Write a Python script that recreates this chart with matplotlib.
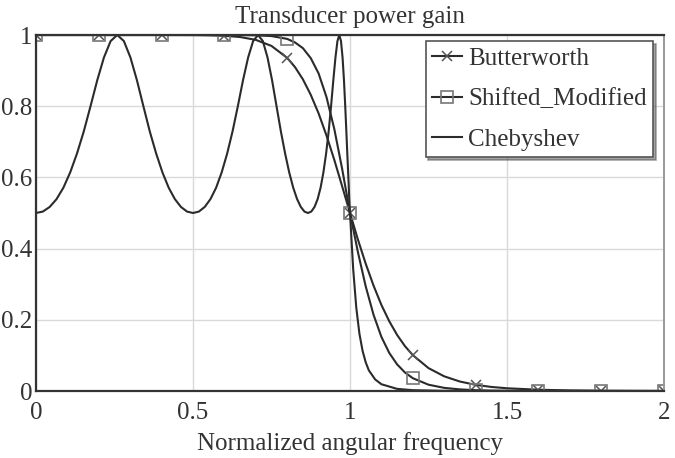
import numpy as np
import matplotlib
matplotlib.use("Agg")
import matplotlib.pyplot as plt

plt.rcParams['font.family'] = ['Liberation Serif', 'DejaVu Serif']

# Butterworth / Shifted_Modified sampled curves
w_bs = [0, 0.1, 0.2, 0.3, 0.4, 0.5, 0.55, 0.6, 0.65, 0.7, 0.75, 0.8, 0.825, 0.85,
        0.875, 0.9, 0.925, 0.95, 0.975, 1.0, 1.025, 1.05, 1.075, 1.1, 1.125, 1.15,
        1.175, 1.2, 1.25, 1.3, 1.35, 1.4, 1.45, 1.5, 1.6, 1.7, 1.8, 1.9, 2.0]
butterworth = [1.0, 1.0, 1.0, 1.0, 1.0, 0.9998, 0.9992, 0.9978, 0.9943, 0.9863, 0.9693,
               0.9357, 0.9096, 0.8755, 0.832, 0.7798, 0.718, 0.6492, 0.575, 0.5, 0.426,
               0.3577, 0.296, 0.2417, 0.196, 0.1575, 0.126, 0.1008, 0.0643, 0.0412,
               0.0266, 0.0173, 0.0114, 0.0077, 0.0035, 0.0017, 0.0009, 0.0005, 0.0002]
shifted = [1.0, 1.0, 1.0, 1.0, 1.0, 1.0, 1.0, 1.0, 0.9998, 0.9992, 0.997, 0.989, 0.979,
           0.963, 0.935, 0.892, 0.826, 0.736, 0.624, 0.5, 0.391, 0.294, 0.214, 0.152,
           0.107, 0.0748, 0.052, 0.036, 0.0177, 0.0088, 0.0045, 0.0023, 0.0012, 0.0007,
           0.0002, 0.0001, 0.0, 0.0, 0.0]

# Chebyshev sampled curve
w_cheb = [0.0, 0.0218, 0.0436, 0.0654, 0.0872, 0.1089, 0.1305, 0.1521, 0.1736, 0.1951,
          0.2164, 0.2377, 0.2588, 0.2798, 0.3007, 0.3214, 0.3420, 0.3624, 0.3827, 0.4027,
          0.4226, 0.4423, 0.4617, 0.4810, 0.5, 0.5188, 0.5373, 0.5556, 0.5736, 0.5913,
          0.6088, 0.6259, 0.6428, 0.6593, 0.6756, 0.6915, 0.7071, 0.7224, 0.7373, 0.7518,
          0.7660, 0.7799, 0.7934, 0.8064, 0.8192, 0.8315, 0.8434, 0.8549, 0.8660, 0.8767,
          0.8870, 0.8969, 0.9063, 0.9153, 0.9239, 0.9320, 0.9397, 0.9469, 0.9537, 0.9600,
          0.9659, 0.9713, 0.9763, 0.9808, 0.9848, 0.9884, 0.9914, 0.9941, 0.9962, 0.9976,
          0.9990, 0.9998, 1.0,
          1.01, 1.02, 1.03, 1.04, 1.05, 1.06, 1.08, 1.1, 1.15, 1.2, 1.3, 1.4, 1.6, 1.8, 2.0]
chebyshev = [0.5, 0.504, 0.517, 0.539, 0.571, 0.614, 0.667, 0.729, 0.8, 0.873, 0.937, 0.983, 1.0,
             0.983, 0.937, 0.873, 0.8, 0.729, 0.667, 0.614, 0.571, 0.539, 0.517, 0.504, 0.5,
             0.504, 0.517, 0.539, 0.571, 0.614, 0.667, 0.729, 0.8, 0.873, 0.937, 0.983, 1.0,
             0.983, 0.937, 0.873, 0.8, 0.729, 0.667, 0.614, 0.571, 0.539, 0.517, 0.504, 0.5,
             0.504, 0.517, 0.539, 0.571, 0.614, 0.667, 0.729, 0.8, 0.873, 0.937, 0.983, 1.0,
             0.983, 0.937, 0.873, 0.8, 0.729, 0.667, 0.614, 0.571, 0.539, 0.517, 0.504, 0.5,
             0.344, 0.234, 0.161, 0.113, 0.0806, 0.058, 0.0326, 0.019, 0.006, 0.0023,
             0.0005, 0.0001, 0.0, 0.0, 0.0]

xticks = [0, 0.5, 1, 1.5, 2]
xtick_labels = ["0", "0.5", "1", "1.5", "2"]
yticks = [0, 0.2, 0.4, 0.6, 0.8, 1]
ytick_labels = ["0", "0.2", "0.4", "0.6", "0.8", "1"]

# markers every 0.2
marks = [i for i, v in enumerate(w_bs) if abs(v * 5 - round(v * 5)) < 1e-6]

fig = plt.figure(figsize=(6.75, 4.58), dpi=100)
ax = fig.add_axes([36 / 675, 1 - 391 / 458, 628 / 675, 356 / 458])

line_c = '#2b2b2b'
ax.plot(w_bs, butterworth, color=line_c, lw=1.5, marker='x', ms=7, mew=1.1,
        mec='#555555', markevery=marks, label='Butterworth')
ax.plot(w_bs, shifted, color=line_c, lw=1.5, marker='s', ms=8, mew=1.2,
        mec='#777777', mfc='none', markevery=marks, label='Shifted_Modified')
ax.plot(w_cheb, chebyshev, color=line_c, lw=1.5, label='Chebyshev')

ax.set_xlim(0, 2)
ax.set_ylim(0, 1)
ax.set_xticks(xticks)
ax.set_xticklabels(xtick_labels)
ax.set_yticks(yticks)
ax.set_yticklabels(ytick_labels)
ax.tick_params(length=0, labelsize=18, colors='#333333')
ax.tick_params(axis='x', pad=8)
ax.tick_params(axis='y', pad=2.5)
ax.grid(True, color='#d9d9d9', lw=1.0)
ax.set_axisbelow(True)

for s in ['left', 'bottom', 'top']:
    ax.spines[s].set_color('#333333')
    ax.spines[s].set_linewidth(1.6)
ax.spines['right'].set_color('#999999')
ax.spines['right'].set_linewidth(1.4)

ax.set_title("Transducer power gain", fontsize=18, color='#333333', pad=9)
ax.set_xlabel("Normalized angular frequency", fontsize=18, color='#333333', labelpad=6)

leg = ax.legend(loc='upper right', bbox_to_anchor=(0.9825, 0.983), borderaxespad=0,
                fontsize=18, fancybox=False, shadow=True, numpoints=1,
                handlelength=1.2, handletextpad=0.25, labelspacing=0.72,
                borderpad=0.25, framealpha=1)
leg.get_frame().set_edgecolor('#555555')
leg.get_frame().set_linewidth(1.2)
for t in leg.get_texts():
    t.set_color('#333333')

fig.savefig("out.png", dpi=100)
